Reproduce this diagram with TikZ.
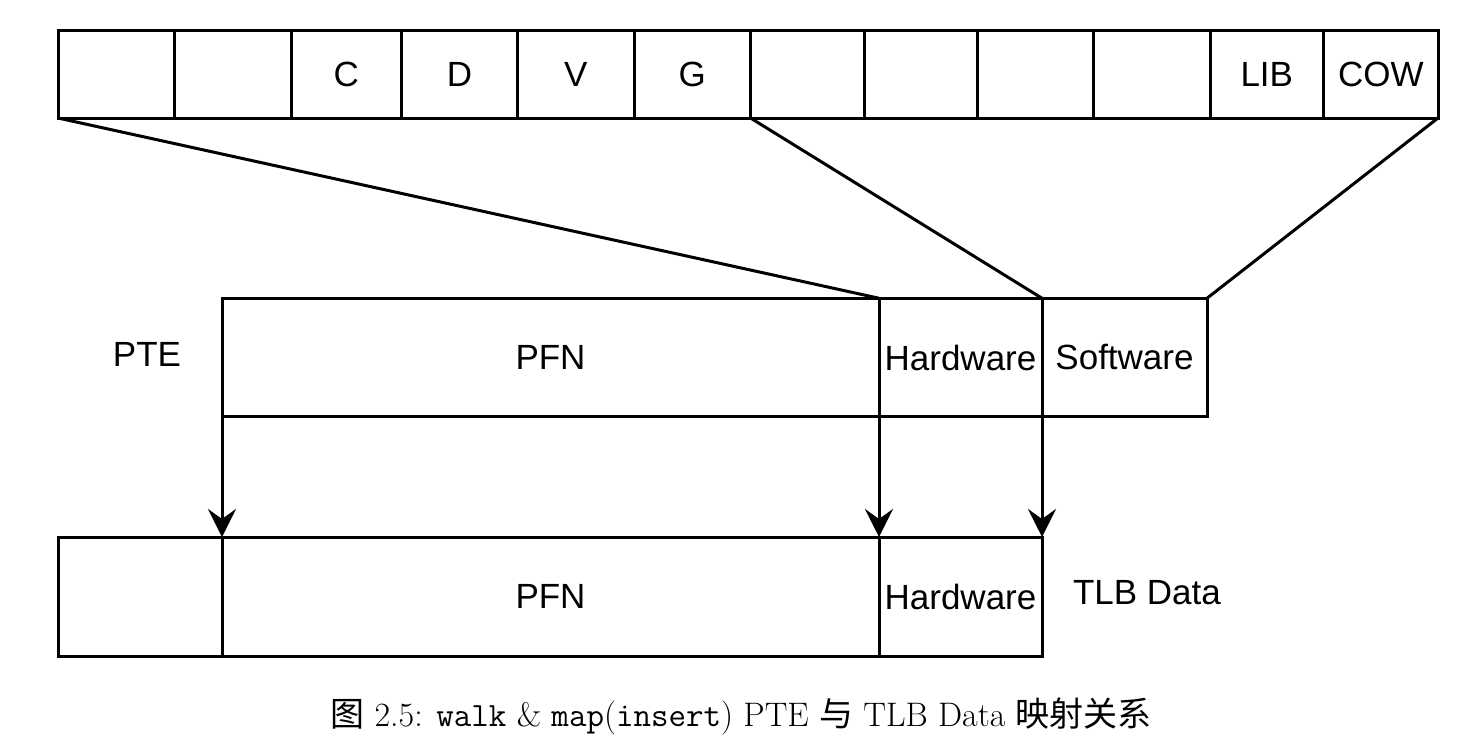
\documentclass[tikz,border=0pt]{standalone}
\usepackage{fontspec}
\usepackage{tikz}
\usetikzlibrary{arrows.meta}
\newfontfamily\arialfont{Liberation Sans}
\newfontfamily\cjk{Noto Sans CJK SC}

\tikzset{
  field/.style={draw, line width=1.5pt, inner sep=0pt, outer sep=0pt,
    font=\arialfont\fontsize{17.5}{20}\selectfont},
  link/.style={line width=1.5pt},
  copyarrow/.style={line width=1.5pt, -{Stealth[length=14pt, width=14pt, inset=5pt]}},
  plainlabel/.style={draw=none, font=\arialfont\fontsize{17.5}{20}\selectfont}
}

\begin{document}
\begin{tikzpicture}[x=0.5pt, y=-0.5pt]
\useasboundingbox (0,0) rectangle (1477,755);

% bit fields of the PTE
\foreach \n/\l/\r/\t in {c1/58/174.5/, c2/174.5/291/, c3/291/401.5/C, c4/401.5/517.7/D,
    c5/517.7/634/V, c6/634/750.5/G, c7/750.5/864/, c8/864/977.5/, c9/977.5/1093.5/,
    c10/1093.5/1210/, c11/1210/1323.5/LIB, c12/1323.5/1438/COW}{
  \node[field, minimum width={(\r-\l)*0.5pt}, minimum height=44pt] (\n) at ({(\l+\r)/2},74) {\t};
}

% PTE
\node[field, minimum width=328.5pt, minimum height=59.25pt] (pfn) at (550.5,357.5) {PFN};
\node[field, minimum width=81.5pt, minimum height=59.25pt] (hw) at (960.5,357.5) {Hardware};
\node[field, minimum width=82.5pt, minimum height=59.25pt] (sw) at (1124.5,357.5) {Software};
\node[plainlabel] (ptelabel) at (147,354) {PTE};

% TLB data
\node[field, minimum width=82pt, minimum height=59.5pt] (tpad) at (140,596.5) {};
\node[field, minimum width=328.5pt, minimum height=59.5pt] (tpfn) at (550.5,596.5) {PFN};
\node[field, minimum width=81.5pt, minimum height=59.5pt] (thw) at (960.5,596.5) {Hardware};
\node[plainlabel] (tlblabel) at (1147,593) {TLB Data};

% expansion lines
\draw[link] (c1.south west) -- (hw.north west);
\draw[link] (c7.south west) -- (sw.north west);
\draw[link] (c12.south east) -- (sw.north east);

% mapping
\draw[copyarrow] (pfn.south west) -- (tpfn.north west);
\draw[copyarrow] (hw.south west) -- (thw.north west);
\draw[copyarrow] (hw.south east) -- (thw.north east);

% caption
\node[draw=none, font=\fontsize{17}{20}\selectfont] (caption) at (741,716)
  {{\cjk 图} 2.5: \texttt{walk} \& \texttt{map}(\texttt{insert}) PTE {\cjk 与} TLB Data {\cjk 映射关系}};

\end{tikzpicture}
\end{document}
